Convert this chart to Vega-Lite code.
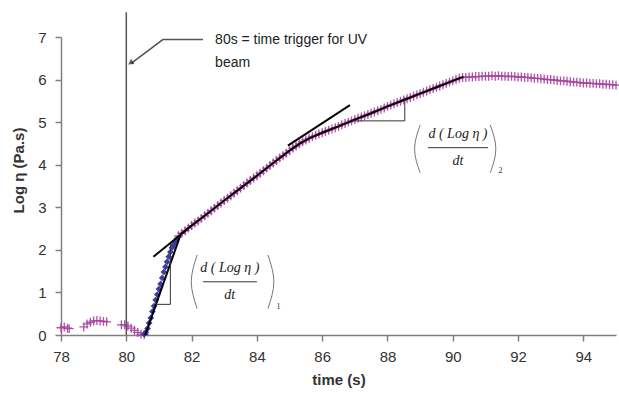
{
  "$schema": "https://vega.github.io/schema/vega-lite/v6.json",
  "width": 555,
  "height": 298,
  "autosize": {"type": "none"},
  "padding": {"left": 61, "top": 37, "right": 3, "bottom": 65},
  "config": {"view": {"stroke": null}, "font": "Liberation Sans"},
  "datasets": {
    "pts": [
      {"x": 78.0, "y": 0.17, "s": "m"}, {"x": 78.1, "y": 0.19, "s": "m"}, {"x": 78.2, "y": 0.16, "s": "m"}, {"x": 78.25, "y": 0.15, "s": "m"},
      {"x": 78.7, "y": 0.19, "s": "m"}, {"x": 78.8, "y": 0.26, "s": "m"}, {"x": 78.9, "y": 0.3, "s": "m"}, {"x": 79.0, "y": 0.33, "s": "m"},
      {"x": 79.1, "y": 0.34, "s": "m"}, {"x": 79.2, "y": 0.33, "s": "m"}, {"x": 79.3, "y": 0.32, "s": "m"}, {"x": 79.4, "y": 0.31, "s": "m"},
      {"x": 79.85, "y": 0.24, "s": "m"}, {"x": 79.95, "y": 0.24, "s": "m"}, {"x": 80.05, "y": 0.21, "s": "m"}, {"x": 80.15, "y": 0.16, "s": "m"},
      {"x": 80.25, "y": 0.11, "s": "m"}, {"x": 80.35, "y": 0.06, "s": "m"}, {"x": 80.45, "y": 0.02, "s": "m"}, {"x": 80.55, "y": 0.01, "s": "m"},
      {"x": 81.6, "y": 2.33, "s": "m"}, {"x": 81.7, "y": 2.39, "s": "m"}, {"x": 81.8, "y": 2.45, "s": "m"}, {"x": 81.9, "y": 2.51, "s": "m"},
      {"x": 82.0, "y": 2.57, "s": "m"}, {"x": 82.1, "y": 2.63, "s": "m"}, {"x": 82.2, "y": 2.68, "s": "m"}, {"x": 82.3, "y": 2.74, "s": "m"},
      {"x": 82.4, "y": 2.8, "s": "m"}, {"x": 82.5, "y": 2.86, "s": "m"}, {"x": 82.6, "y": 2.92, "s": "m"}, {"x": 82.7, "y": 2.98, "s": "m"},
      {"x": 82.8, "y": 3.04, "s": "m"}, {"x": 82.9, "y": 3.1, "s": "m"}, {"x": 83.0, "y": 3.16, "s": "m"}, {"x": 83.1, "y": 3.21, "s": "m"},
      {"x": 83.2, "y": 3.27, "s": "m"}, {"x": 83.3, "y": 3.33, "s": "m"}, {"x": 83.4, "y": 3.39, "s": "m"}, {"x": 83.5, "y": 3.45, "s": "m"},
      {"x": 83.6, "y": 3.51, "s": "m"}, {"x": 83.7, "y": 3.57, "s": "m"}, {"x": 83.8, "y": 3.63, "s": "m"}, {"x": 83.9, "y": 3.69, "s": "m"},
      {"x": 84.0, "y": 3.74, "s": "m"}, {"x": 84.1, "y": 3.8, "s": "m"}, {"x": 84.2, "y": 3.86, "s": "m"}, {"x": 84.3, "y": 3.92, "s": "m"},
      {"x": 84.4, "y": 3.98, "s": "m"}, {"x": 84.5, "y": 4.04, "s": "m"}, {"x": 84.6, "y": 4.1, "s": "m"}, {"x": 84.7, "y": 4.16, "s": "m"},
      {"x": 84.8, "y": 4.21, "s": "m"}, {"x": 84.9, "y": 4.27, "s": "m"}, {"x": 85.0, "y": 4.33, "s": "m"}, {"x": 85.1, "y": 4.39, "s": "m"},
      {"x": 85.2, "y": 4.44, "s": "m"}, {"x": 85.3, "y": 4.49, "s": "m"}, {"x": 85.4, "y": 4.54, "s": "m"}, {"x": 85.5, "y": 4.58, "s": "m"},
      {"x": 85.6, "y": 4.62, "s": "m"}, {"x": 85.7, "y": 4.66, "s": "m"}, {"x": 85.8, "y": 4.69, "s": "m"}, {"x": 85.9, "y": 4.72, "s": "m"},
      {"x": 86.0, "y": 4.75, "s": "m"}, {"x": 86.1, "y": 4.78, "s": "m"}, {"x": 86.2, "y": 4.81, "s": "m"}, {"x": 86.3, "y": 4.84, "s": "m"},
      {"x": 86.4, "y": 4.87, "s": "m"}, {"x": 86.5, "y": 4.9, "s": "m"}, {"x": 86.6, "y": 4.94, "s": "m"}, {"x": 86.7, "y": 4.97, "s": "m"},
      {"x": 86.8, "y": 5.0, "s": "m"}, {"x": 86.9, "y": 5.03, "s": "m"}, {"x": 87.0, "y": 5.06, "s": "m"}, {"x": 87.1, "y": 5.09, "s": "m"},
      {"x": 87.2, "y": 5.12, "s": "m"}, {"x": 87.3, "y": 5.15, "s": "m"}, {"x": 87.4, "y": 5.18, "s": "m"}, {"x": 87.5, "y": 5.21, "s": "m"},
      {"x": 87.6, "y": 5.24, "s": "m"}, {"x": 87.7, "y": 5.27, "s": "m"}, {"x": 87.8, "y": 5.3, "s": "m"}, {"x": 87.9, "y": 5.33, "s": "m"},
      {"x": 88.0, "y": 5.37, "s": "m"}, {"x": 88.1, "y": 5.4, "s": "m"}, {"x": 88.2, "y": 5.43, "s": "m"}, {"x": 88.3, "y": 5.46, "s": "m"},
      {"x": 88.4, "y": 5.49, "s": "m"}, {"x": 88.5, "y": 5.52, "s": "m"}, {"x": 88.6, "y": 5.55, "s": "m"}, {"x": 88.7, "y": 5.58, "s": "m"},
      {"x": 88.8, "y": 5.61, "s": "m"}, {"x": 88.9, "y": 5.64, "s": "m"}, {"x": 89.0, "y": 5.67, "s": "m"}, {"x": 89.1, "y": 5.7, "s": "m"},
      {"x": 89.2, "y": 5.73, "s": "m"}, {"x": 89.3, "y": 5.76, "s": "m"}, {"x": 89.4, "y": 5.79, "s": "m"}, {"x": 89.5, "y": 5.82, "s": "m"},
      {"x": 89.6, "y": 5.85, "s": "m"}, {"x": 89.7, "y": 5.88, "s": "m"}, {"x": 89.8, "y": 5.91, "s": "m"}, {"x": 89.9, "y": 5.94, "s": "m"},
      {"x": 90.0, "y": 5.97, "s": "m"}, {"x": 90.1, "y": 6.0, "s": "m"}, {"x": 90.2, "y": 6.03, "s": "m"}, {"x": 90.3, "y": 6.05, "s": "m"},
      {"x": 90.4, "y": 6.05, "s": "m"}, {"x": 90.5, "y": 6.06, "s": "m"}, {"x": 90.6, "y": 6.06, "s": "m"}, {"x": 90.7, "y": 6.07, "s": "m"},
      {"x": 90.8, "y": 6.07, "s": "m"}, {"x": 90.9, "y": 6.08, "s": "m"}, {"x": 91.0, "y": 6.08, "s": "m"}, {"x": 91.1, "y": 6.08, "s": "m"},
      {"x": 91.2, "y": 6.09, "s": "m"}, {"x": 91.3, "y": 6.08, "s": "m"}, {"x": 91.4, "y": 6.09, "s": "m"}, {"x": 91.5, "y": 6.08, "s": "m"},
      {"x": 91.6, "y": 6.08, "s": "m"}, {"x": 91.7, "y": 6.07, "s": "m"}, {"x": 91.8, "y": 6.08, "s": "m"}, {"x": 91.9, "y": 6.07, "s": "m"},
      {"x": 92.0, "y": 6.06, "s": "m"}, {"x": 92.1, "y": 6.06, "s": "m"}, {"x": 92.2, "y": 6.05, "s": "m"}, {"x": 92.3, "y": 6.05, "s": "m"},
      {"x": 92.4, "y": 6.04, "s": "m"}, {"x": 92.5, "y": 6.03, "s": "m"}, {"x": 92.6, "y": 6.03, "s": "m"}, {"x": 92.7, "y": 6.02, "s": "m"},
      {"x": 92.8, "y": 6.01, "s": "m"}, {"x": 92.9, "y": 6.0, "s": "m"}, {"x": 93.0, "y": 6.0, "s": "m"}, {"x": 93.1, "y": 5.99, "s": "m"},
      {"x": 93.2, "y": 5.98, "s": "m"}, {"x": 93.3, "y": 5.97, "s": "m"}, {"x": 93.4, "y": 5.97, "s": "m"}, {"x": 93.5, "y": 5.96, "s": "m"},
      {"x": 93.6, "y": 5.95, "s": "m"}, {"x": 93.7, "y": 5.94, "s": "m"}, {"x": 93.8, "y": 5.94, "s": "m"}, {"x": 93.9, "y": 5.93, "s": "m"},
      {"x": 94.0, "y": 5.92, "s": "m"}, {"x": 94.1, "y": 5.92, "s": "m"}, {"x": 94.2, "y": 5.91, "s": "m"}, {"x": 94.3, "y": 5.91, "s": "m"},
      {"x": 94.4, "y": 5.9, "s": "m"}, {"x": 94.5, "y": 5.9, "s": "m"}, {"x": 94.6, "y": 5.89, "s": "m"}, {"x": 94.7, "y": 5.89, "s": "m"},
      {"x": 94.8, "y": 5.88, "s": "m"}, {"x": 94.9, "y": 5.88, "s": "m"}, {"x": 95.0, "y": 5.87, "s": "m"},
      {"x": 80.55, "y": 0.02, "s": "b"}, {"x": 80.6, "y": 0.06, "s": "b"}, {"x": 80.65, "y": 0.15, "s": "b"}, {"x": 80.7, "y": 0.28, "s": "b"},
      {"x": 80.75, "y": 0.4, "s": "b"}, {"x": 80.8, "y": 0.55, "s": "b"}, {"x": 80.85, "y": 0.68, "s": "b"}, {"x": 80.9, "y": 0.82, "s": "b"},
      {"x": 80.95, "y": 0.95, "s": "b"}, {"x": 81.0, "y": 1.08, "s": "b"}, {"x": 81.05, "y": 1.2, "s": "b"}, {"x": 81.1, "y": 1.34, "s": "b"},
      {"x": 81.15, "y": 1.48, "s": "b"}, {"x": 81.2, "y": 1.6, "s": "b"}, {"x": 81.25, "y": 1.72, "s": "b"}, {"x": 81.3, "y": 1.84, "s": "b"},
      {"x": 81.35, "y": 1.95, "s": "b"}, {"x": 81.4, "y": 2.05, "s": "b"}, {"x": 81.45, "y": 2.12, "s": "b"}, {"x": 81.5, "y": 2.2, "s": "b"},
      {"x": 81.55, "y": 2.26, "s": "b"}
    ],
    "lines": [
      {"seg": "fit", "o": 1, "x": 81.65, "y": 2.36}, {"seg": "fit", "o": 2, "x": 82.0, "y": 2.57}, {"seg": "fit", "o": 3, "x": 82.5, "y": 2.86},
      {"seg": "fit", "o": 4, "x": 83.0, "y": 3.16}, {"seg": "fit", "o": 5, "x": 83.5, "y": 3.45}, {"seg": "fit", "o": 6, "x": 84.0, "y": 3.74},
      {"seg": "fit", "o": 7, "x": 84.5, "y": 4.04}, {"seg": "fit", "o": 8, "x": 85.0, "y": 4.33}, {"seg": "fit", "o": 9, "x": 85.3, "y": 4.49},
      {"seg": "fit", "o": 10, "x": 85.6, "y": 4.62}, {"seg": "fit", "o": 11, "x": 86.0, "y": 4.75}, {"seg": "fit", "o": 12, "x": 86.5, "y": 4.9},
      {"seg": "fit", "o": 13, "x": 87.0, "y": 5.06}, {"seg": "fit", "o": 14, "x": 87.5, "y": 5.21}, {"seg": "fit", "o": 15, "x": 88.0, "y": 5.37},
      {"seg": "fit", "o": 16, "x": 88.5, "y": 5.52}, {"seg": "fit", "o": 17, "x": 89.0, "y": 5.67}, {"seg": "fit", "o": 18, "x": 89.5, "y": 5.82},
      {"seg": "fit", "o": 19, "x": 90.0, "y": 5.97}, {"seg": "fit", "o": 20, "x": 90.33, "y": 6.07},
      {"seg": "steep", "o": 1, "x": 80.58, "y": 0.0}, {"seg": "steep", "o": 2, "x": 81.65, "y": 2.33},
      {"seg": "tan1", "o": 1, "x": 80.83, "y": 1.84}, {"seg": "tan1", "o": 2, "x": 81.9, "y": 2.5},
      {"seg": "tan2", "o": 1, "x": 84.95, "y": 4.45}, {"seg": "tan2", "o": 2, "x": 86.85, "y": 5.4},
      {"seg": "tri1", "o": 1, "x": 80.92, "y": 0.72}, {"seg": "tri1", "o": 2, "x": 81.35, "y": 0.72}, {"seg": "tri1", "o": 3, "x": 81.35, "y": 2.14},
      {"seg": "tri2", "o": 1, "x": 86.9, "y": 5.03}, {"seg": "tri2", "o": 2, "x": 88.53, "y": 5.03}, {"seg": "tri2", "o": 3, "x": 88.53, "y": 5.58},
      {"seg": "bar1", "o": 1, "x": 82.35, "y": 1.25}, {"seg": "bar1", "o": 2, "x": 84.0, "y": 1.25},
      {"seg": "bar2", "o": 1, "x": 89.24, "y": 4.4}, {"seg": "bar2", "o": 2, "x": 91.08, "y": 4.4},
      {"seg": "vline", "o": 1, "x": 80.0, "y": 0.0}, {"seg": "vline", "o": 2, "x": 80.0, "y": 7.58},
      {"seg": "arrow", "o": 1, "x": 82.35, "y": 6.94}, {"seg": "arrow", "o": 2, "x": 81.12, "y": 6.94}, {"seg": "arrow", "o": 3, "x": 80.15, "y": 6.38},
      {"seg": "p1l", "o": 1, "x": 82.17, "y": 1.88}, {"seg": "p1l", "o": 2, "x": 81.99, "y": 1.25}, {"seg": "p1l", "o": 3, "x": 82.17, "y": 0.62},
      {"seg": "p1r", "o": 1, "x": 84.34, "y": 1.88}, {"seg": "p1r", "o": 2, "x": 84.52, "y": 1.25}, {"seg": "p1r", "o": 3, "x": 84.34, "y": 0.62},
      {"seg": "p2l", "o": 1, "x": 89.0, "y": 4.93}, {"seg": "p2l", "o": 2, "x": 88.83, "y": 4.37}, {"seg": "p2l", "o": 3, "x": 89.0, "y": 3.81},
      {"seg": "p2r", "o": 1, "x": 91.15, "y": 4.93}, {"seg": "p2r", "o": 2, "x": 91.32, "y": 4.37}, {"seg": "p2r", "o": 3, "x": 91.15, "y": 3.81}
    ],
    "notes": [
      {"kind": "sans", "x": 82.72, "y": 6.93, "t": "80s = time trigger for UV"},
      {"kind": "sans", "x": 82.72, "y": 6.39, "t": "beam"},
      {"kind": "frac", "x": 83.17, "y": 1.57, "t": "d ( Log η )"},
      {"kind": "frac", "x": 83.17, "y": 0.93, "t": "dt"},
      {"kind": "frac", "x": 90.16, "y": 4.72, "t": "d ( Log η )"},
      {"kind": "frac", "x": 90.16, "y": 4.08, "t": "dt"},
      {"kind": "sub", "x": 84.6, "y": 0.66, "t": "1"},
      {"kind": "sub", "x": 91.4, "y": 3.85, "t": "2"},
      {"kind": "head", "x": 80.13, "y": 6.39, "t": ""}
    ]
  },
  "encoding": {
    "x": {
      "field": "x", "type": "quantitative",
      "scale": {"domain": [78, 95], "nice": false, "zero": false},
      "axis": {
        "values": [78, 80, 82, 84, 86, 88, 90, 92, 94], "grid": false, "title": "time (s)",
        "domainColor": "#808080", "domainWidth": 1.5, "tickColor": "#808080", "tickWidth": 1.5, "tickSize": 6,
        "labelFont": "Liberation Sans", "labelFontSize": 15, "labelColor": "#333", "labelPadding": 8, "labelFlush": false,
        "titleFont": "Liberation Sans", "titleFontSize": 15, "titleFontWeight": "bold", "titleColor": "#333", "titlePadding": 8
      }
    },
    "y": {
      "field": "y", "type": "quantitative",
      "scale": {"domain": [0, 7], "nice": false, "zero": false},
      "axis": {
        "values": [0, 1, 2, 3, 4, 5, 6, 7], "grid": false, "title": "Log η (Pa.s)",
        "domainColor": "#808080", "domainWidth": 1.5, "tickColor": "#808080", "tickWidth": 1.5, "tickSize": 6,
        "labelFont": "Liberation Sans", "labelFontSize": 15, "labelColor": "#333", "labelPadding": 9,
        "titleFont": "Liberation Sans", "titleFontSize": 15, "titleFontWeight": "bold", "titleColor": "#333",
        "titleX": -43, "titleY": 133, "titleBaseline": "middle", "titleAngle": -90
      }
    }
  },
  "layer": [
    {
      "data": {"name": "pts"},
      "transform": [{"filter": "datum.s === 'm'"}],
      "mark": {"type": "point", "shape": "M-1,0L1,0M0,-1L0,1", "filled": false, "strokeWidth": 1.3, "size": 80, "color": "#a8409f", "opacity": 0.9}
    },
    {
      "data": {"name": "pts"},
      "transform": [{"filter": "datum.s === 'b'"}],
      "mark": {"type": "point", "shape": "diamond", "filled": true, "size": 45, "color": "#34349a", "opacity": 0.95}
    },
    {
      "data": {"name": "lines"},
      "transform": [{"filter": "indexof(['fit','steep','tan1','tan2'], datum.seg) >= 0"}],
      "mark": {"type": "line", "color": "#000", "strokeWidth": 2},
      "encoding": {"detail": {"field": "seg"}, "order": {"field": "o"}}
    },
    {
      "data": {"name": "lines"},
      "transform": [{"filter": "indexof(['tri1','tri2','bar1','bar2'], datum.seg) >= 0"}],
      "mark": {"type": "line", "color": "#333", "strokeWidth": 1},
      "encoding": {"detail": {"field": "seg"}, "order": {"field": "o"}}
    },
    {
      "data": {"name": "lines"},
      "transform": [{"filter": "indexof(['p1l','p1r','p2l','p2r'], datum.seg) >= 0"}],
      "mark": {"type": "line", "color": "#777", "strokeWidth": 1, "interpolate": "natural"},
      "encoding": {"detail": {"field": "seg"}, "order": {"field": "o"}}
    },
    {
      "data": {"name": "lines"},
      "transform": [{"filter": "indexof(['vline','arrow'], datum.seg) >= 0"}],
      "mark": {"type": "line", "color": "#555", "strokeWidth": 1.5},
      "encoding": {"detail": {"field": "seg"}, "order": {"field": "o"}}
    },
    {
      "data": {"name": "notes"},
      "transform": [{"filter": "datum.kind === 'head'"}],
      "mark": {"type": "point", "shape": "triangle-up", "filled": true, "size": 40, "angle": 235, "color": "#222"}
    },
    {
      "data": {"name": "notes"},
      "transform": [{"filter": "datum.kind === 'sans'"}],
      "mark": {"type": "text", "align": "left", "baseline": "middle", "font": "Liberation Sans", "fontSize": 14, "color": "#222"},
      "encoding": {"text": {"field": "t"}}
    },
    {
      "data": {"name": "notes"},
      "transform": [{"filter": "datum.kind === 'frac'"}],
      "mark": {"type": "text", "align": "center", "baseline": "middle", "font": "Liberation Serif", "fontStyle": "italic", "fontSize": 14, "color": "#222"},
      "encoding": {"text": {"field": "t"}}
    },
    {
      "data": {"name": "notes"},
      "transform": [{"filter": "datum.kind === 'sub'"}],
      "mark": {"type": "text", "align": "left", "baseline": "middle", "font": "Liberation Serif", "fontSize": 8, "color": "#333"},
      "encoding": {"text": {"field": "t"}}
    }
  ]
}
